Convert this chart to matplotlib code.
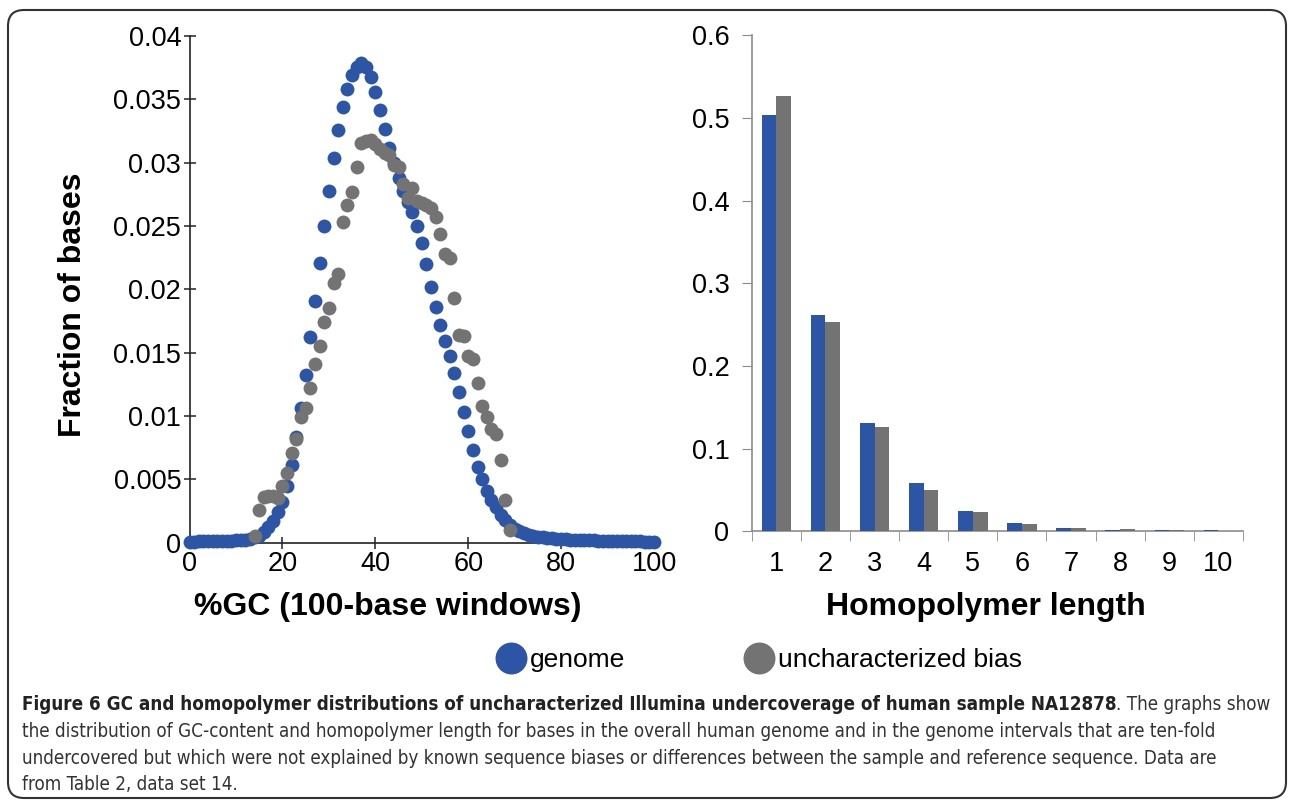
import matplotlib
matplotlib.use('Agg')
import matplotlib.pyplot as plt
from matplotlib import font_manager
from matplotlib.lines import Line2D
from matplotlib.patches import FancyBboxPatch
from matplotlib.transforms import IdentityTransform
import numpy as np

plt.rcParams['font.family'] = ['Liberation Sans', 'DejaVu Sans']

BLUE = '#2D55A5'
GRAY = '#737373'

# %GC of 100-base windows, fraction of bases
gc_genome = list(range(0, 101))
frac_genome = [
    0.00008, 0.00008, 0.00009, 0.00009, 0.0001, 0.0001, 0.00011, 0.00012, 0.00013, 0.00015,
    0.00017, 0.0002, 0.00024, 0.0003, 0.0004, 0.00055, 0.0008, 0.0012, 0.0017, 0.0024,
    0.0032, 0.0045, 0.0061, 0.0083, 0.0106, 0.0132, 0.0162, 0.0191, 0.0221, 0.0250,
    0.0278, 0.0304, 0.0326, 0.0344, 0.0358, 0.0369, 0.0376, 0.0379, 0.0376, 0.0368,
    0.0356, 0.0342, 0.0327, 0.0312, 0.0300, 0.0288, 0.0278, 0.0269, 0.0261, 0.0250,
    0.0237, 0.0220, 0.0202, 0.0186, 0.0172, 0.0159, 0.0147, 0.0134, 0.0119, 0.0103,
    0.0088, 0.0073, 0.0060, 0.0050, 0.0041, 0.0034, 0.0028, 0.0022, 0.0018, 0.0014,
    0.0011, 0.0009, 0.00075, 0.00063, 0.00054, 0.00047, 0.00042, 0.00037, 0.00033, 0.0003,
    0.00027, 0.00025, 0.00023, 0.00021, 0.0002, 0.00019, 0.00018, 0.00017, 0.00016, 0.00015,
    0.00014, 0.00013, 0.00012, 0.00011, 0.0001, 0.0001, 0.00009, 0.00009, 0.00008, 0.00008,
    0.00008,
]

gc_bias = list(range(14, 70))
frac_bias = [
    0.0005, 0.0026, 0.0036, 0.0037, 0.0037, 0.0035, 0.0045, 0.0055, 0.0071, 0.0082,
    0.0099, 0.0106, 0.0122, 0.0141, 0.0155, 0.0174, 0.0185, 0.0205, 0.0212, 0.0253,
    0.0267, 0.0277, 0.0297, 0.0316, 0.0317, 0.0318, 0.0315, 0.0311, 0.0308, 0.0306,
    0.0298, 0.0297, 0.0283, 0.0272, 0.0280, 0.0270, 0.0268, 0.0267, 0.0264, 0.0257,
    0.0244, 0.0228, 0.0225, 0.0193, 0.0164, 0.0163, 0.0147, 0.0145, 0.0126, 0.0108,
    0.0099, 0.0090, 0.0086, 0.0065, 0.0034, 0.0010,
]

# homopolymer length distribution
hp_length = [1, 2, 3, 4, 5, 6, 7, 8, 9, 10]
hp_genome = [0.503, 0.262, 0.131, 0.058, 0.025, 0.0097, 0.004, 0.0016, 0.0012, 0.0010]
hp_bias = [0.526, 0.253, 0.126, 0.050, 0.0233, 0.0085, 0.004, 0.0028, 0.0010, 0.0008]

gc_yticks = [0, 0.005, 0.01, 0.015, 0.02, 0.025, 0.03, 0.035, 0.04]
gc_yticklabels = ['0', '0.005', '0.01', '0.015', '0.02', '0.025', '0.03', '0.035', '0.04']
hp_yticks = [0, 0.1, 0.2, 0.3, 0.4, 0.5, 0.6]
hp_yticklabels = ['0', '0.1', '0.2', '0.3', '0.4', '0.5', '0.6']

fig = plt.figure(figsize=(12.9, 8), dpi=100)

# ---- left: GC distribution
ax1 = fig.add_axes([0.1469, 0.3218, 0.3601, 0.633])
ax1.scatter(gc_genome, frac_genome, s=100, color=BLUE, linewidths=0, clip_on=False, zorder=3)
ax1.scatter(gc_bias, frac_bias, s=100, color=GRAY, linewidths=0, clip_on=False, zorder=4)
ax1.set_xlim(0, 100)
ax1.set_ylim(0, 0.04)
ax1.set_xticks([0, 20, 40, 60, 80, 100])
ax1.set_yticks(gc_yticks)
ax1.set_yticklabels(gc_yticklabels)
for s in ['top', 'right']:
    ax1.spines[s].set_visible(False)
for s in ['left', 'bottom']:
    ax1.spines[s].set_color('#222222')
    ax1.spines[s].set_linewidth(1.2)
ax1.tick_params(direction='inout', length=8, width=1.1, color='#222222',
                labelsize=19.5, pad=2)
ax1.set_xlabel('%GC (100-base windows)', fontsize=23, fontweight='bold')
ax1.xaxis.set_label_coords(0.427, -0.098)
ax1.set_ylabel('Fraction of bases', fontsize=23, fontweight='bold', va='center')
ax1.yaxis.set_label_coords(-0.251, 0.469)

# ---- right: homopolymer length
ax2 = fig.add_axes([0.5827, 0.3359, 0.3809, 0.62])
x = np.array(hp_length)
w = 0.3
ax2.bar(x - w / 2, hp_genome, width=w, color=BLUE, zorder=3)
ax2.bar(x + w / 2, hp_bias, width=w, color=GRAY, zorder=3)
ax2.set_xlim(0.5, 10.5)
ax2.set_ylim(0, 0.6)
ax2.set_yticks(hp_yticks)
ax2.set_yticklabels(hp_yticklabels)
ax2.set_xticks(hp_length)
ax2.set_xticks(np.arange(0.5, 11, 1), minor=True)
for s in ['top', 'right']:
    ax2.spines[s].set_visible(False)
for s in ['left', 'bottom']:
    ax2.spines[s].set_color('#8c8c8c')
    ax2.spines[s].set_linewidth(1.2)
ax2.tick_params(axis='y', direction='out', length=7, color='#8c8c8c', labelsize=19.5, pad=9)
ax2.tick_params(axis='x', which='major', length=0, labelsize=19.5, pad=14)
ax2.tick_params(axis='x', which='minor', direction='out', length=7, color='#8c8c8c')
ax2.set_xlabel('Homopolymer length', fontsize=23, fontweight='bold')
ax2.xaxis.set_label_coords(0.477, -0.122)

# ---- legend
handles = [Line2D([], [], marker='o', ls='', color=BLUE, markersize=22),
           Line2D([], [], marker='o', ls='', color=GRAY, markersize=22)]
fig.legend(handles, ['genome', 'uncharacterized bias'], loc='center',
           bbox_to_anchor=(0.588, 0.175), ncol=2, frameon=False, fontsize=19,
           handletextpad=0.1, columnspacing=4.5, handlelength=1.2)

# ---- frame
fig.add_artist(FancyBboxPatch((8, 2), 1278, 788,
                              boxstyle='round,pad=0,rounding_size=16',
                              transform=IdentityTransform(), fill=False,
                              edgecolor='#333333', linewidth=1.5))

# ---- caption (narrow font if one is installed, sized to the reference width)
names = {f.name for f in font_manager.fontManager.ttflist}
cap_kw = {'family': ['DejaVu Sans']}
if 'Liberation Sans Narrow' in names:
    cap_kw = {'family': ['Liberation Sans Narrow', 'DejaVu Sans']}
elif any(f.name == 'DejaVu Sans' and f.stretch == 'condensed'
         for f in font_manager.fontManager.ttflist):
    cap_kw = {'family': ['DejaVu Sans'], 'fontstretch': 'condensed'}

x0 = 22 / 1290
bold_part = ('Figure 6 GC and homopolymer distributions of uncharacterized Illumina '
             'undercoverage of human sample NA12878')
rest_part = '. The graphs show'
lines = [
    'the distribution of GC-content and homopolymer length for bases in the overall human genome and in the genome intervals that are ten-fold',
    'undercovered but which were not explained by known sequence biases or differences between the sample and reference sequence. Data are',
    'from Table 2, data set 14.',
]
y_lines = [1 - 710 / 800, 1 - 737 / 800, 1 - 764 / 800, 1 - 790 / 800]

renderer = fig.canvas.get_renderer()
probe = fig.text(x0, 0.5, lines[0], fontsize=14, **cap_kw)
w2 = probe.get_window_extent(renderer).width
probe.remove()
probe_b = fig.text(x0, 0.5, bold_part, fontsize=14, fontweight='bold', **cap_kw)
probe_r = fig.text(x0, 0.4, rest_part, fontsize=14, **cap_kw)
w1 = probe_b.get_window_extent(renderer).width + probe_r.get_window_extent(renderer).width
probe_b.remove()
probe_r.remove()
cap_size = min(14.5, 14 * 1243 / w2, 14 * 1256 / w1)

t1 = fig.text(x0, y_lines[0], bold_part, fontsize=cap_size,
              fontweight='bold', va='baseline', color='#222222', **cap_kw)
bb = t1.get_window_extent(renderer)
fig.text(bb.x1 / 1290, y_lines[0], rest_part,
         fontsize=cap_size, va='baseline', color='#333333', **cap_kw)
for ln, yy in zip(lines, y_lines[1:]):
    fig.text(x0, yy, ln, fontsize=cap_size, va='baseline', color='#333333', **cap_kw)

fig.savefig('out.png', dpi=100)
